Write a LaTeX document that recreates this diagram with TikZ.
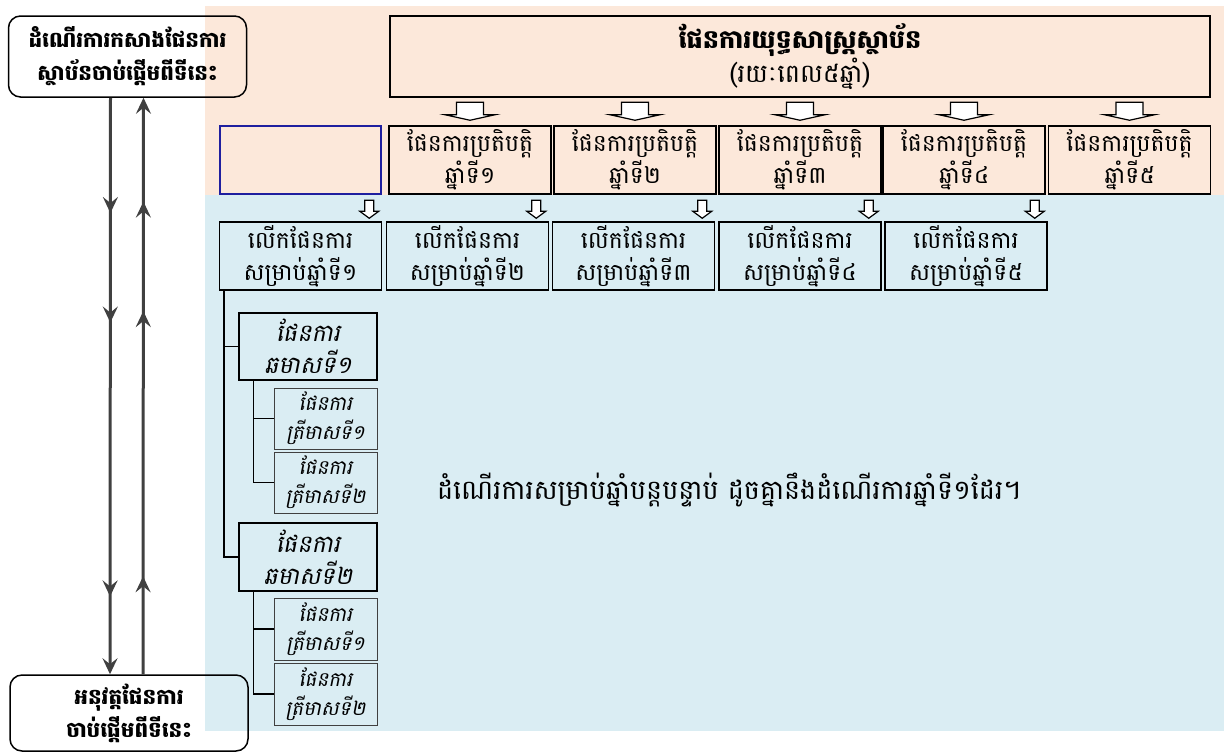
\documentclass[tikz,border=0pt]{standalone}
\usepackage{fontspec}
\newfontfamily\kh[Script=Khmer]{Battambang}
\newfontfamily\khit[Script=Khmer,FakeSlant=0.2]{Battambang}
\usetikzlibrary{arrows.meta,decorations.markings}
\definecolor{peach}{HTML}{FCE8DA}
\definecolor{paleblue}{HTML}{DAEDF3}
\definecolor{flowgray}{HTML}{404040}
\definecolor{navy}{HTML}{1F1F9F}
\tikzset{
  sqbox/.style={draw=black,line width=1.5pt,inner sep=0pt,align=center,
    minimum width=162pt,minimum height=68pt,font=\kh\fontsize{23.5}{32}\selectfont},
  roundbox/.style={draw=black,line width=1.5pt,rounded corners=12pt,inner sep=0pt,
    align=center,minimum width=238pt,font=\kh\bfseries\fontsize{21.5}{33}\selectfont},
  sembox/.style={draw=black,line width=1.5pt,inner sep=0pt,align=center,
    minimum width=138pt,minimum height=67pt,font=\khit\fontsize{24}{32}\selectfont},
  qbox/.style={draw=black!75,line width=1pt,inner sep=0pt,align=center,
    minimum width=103pt,minimum height=61pt,font=\khit\fontsize{20}{29}\selectfont},
  treeline/.style={draw=black,line width=1.5pt},
  flowtip/.tip={Stealth[length=16pt,width=15pt,inset=6pt,fill=flowgray]},
  flow/.style={draw=flowgray,line width=3pt},
  bigarrow/.pic={\draw[fill=white,line width=1.2pt,line join=miter]
    (-13.5,0) -- (13.5,0) -- (13.5,12.5) -- (25,12.5) -- (0,18) -- (-25,12.5) -- (-13.5,12.5) -- cycle;},
  smallarrow/.pic={\draw[fill=white,line width=1.2pt,line join=miter]
    (-4.5,0) -- (4.5,0) -- (4.5,11) -- (9.5,11) -- (0,18) -- (-9.5,11) -- (-4.5,11) -- cycle;}
}
\begin{document}
\begin{tikzpicture}[x=1pt,y=-1pt]
\useasboundingbox (0,0) rectangle (1228,753);
% backgrounds
\fill[peach] (205,6) rectangle (1224,195);
\fill[paleblue] (205,195) rectangle (1224,731);
% left boxes
\node[roundbox,minimum height=81pt] (start) at (127.5,56.5) {ដំណើរការកសាងផែនការ\\ស្ថាប័នចាប់ផ្តើមពីទីនេះ};
\node[roundbox,minimum height=76pt] (finish) at (129,713) {អនុវត្តផែនការ\\ចាប់ផ្តើមពីទីនេះ};
% title
\node[sqbox,minimum width=820pt,minimum height=81pt,font=\kh\fontsize{25.5}{31}\selectfont] (title) at (800,56.5)
  {{\bfseries ផែនការយុទ្ធសាស្ត្រស្ថាប័ន}\\(រយៈពេល៥ឆ្នាំ)};
% operational plans
\node[draw=navy,line width=1.2pt,minimum width=161pt,minimum height=68pt,inner sep=0pt] (blank) at (300.5,160) {};
\node[sqbox] (op1) at (470,160) {ផែនការប្រតិបត្តិ\\ឆ្នាំទី១};
\node[sqbox] (op2) at (635,160) {ផែនការប្រតិបត្តិ\\ឆ្នាំទី២};
\node[sqbox] (op3) at (800,160) {ផែនការប្រតិបត្តិ\\ឆ្នាំទី៣};
\node[sqbox] (op4) at (964,160) {ផែនការប្រតិបត្តិ\\ឆ្នាំទី៤};
\node[sqbox] (op5) at (1129.5,160) {ផែនការប្រតិបត្តិ\\ឆ្នាំទី៥};
% big hollow arrows
\foreach \i in {1,...,5} {\pic at ([yshift=23pt]op\i.north) {bigarrow};}
% yearly plans
\node[sqbox] (yr1) at (300.5,256) {លើកផែនការ\\សម្រាប់ឆ្នាំទី១};
\node[sqbox] (yr2) at (467.5,256) {លើកផែនការ\\សម្រាប់ឆ្នាំទី២};
\node[sqbox] (yr3) at (633.5,256) {លើកផែនការ\\សម្រាប់ឆ្នាំទី៣};
\node[sqbox] (yr4) at (800,256) {លើកផែនការ\\សម្រាប់ឆ្នាំទី៤};
\node[sqbox] (yr5) at (966,256) {លើកផែនការ\\សម្រាប់ឆ្នាំទី៥};
\foreach \i in {1,...,5} {\pic at ([xshift=-13pt,yshift=21pt]yr\i.north east) {smallarrow};}
% semester and quarter plans
\node[sembox] (sem1) at (308,346.5) {ផែនការ\\ឆមាសទី១};
\node[qbox] (q11) at (325.5,418.5) {ផែនការ\\ត្រីមាសទី១};
\node[qbox] (q12) at (325.5,482.5) {ផែនការ\\ត្រីមាសទី២};
\node[sembox,minimum height=68pt] (sem2) at (308,557) {ផែនការ\\ឆមាសទី២};
\node[qbox,minimum height=62pt] (q21) at (325.5,629) {ផែនការ\\ត្រីមាសទី១};
\node[qbox,minimum height=62pt] (q22) at (325.5,694) {ផែនការ\\ត្រីមាសទី២};
% tree lines
\draw[treeline] ([xshift=5pt]yr1.south west) |- (sem1.west);
\draw[treeline] ([xshift=5pt]yr1.south west) |- (sem2.west);
\draw[treeline] ([xshift=15pt]sem1.south west) |- (q11.west);
\draw[treeline] ([xshift=15pt]sem1.south west) |- (q12.west);
\draw[treeline] ([xshift=15pt]sem2.south west) |- (q21.west);
\draw[treeline] ([xshift=15pt]sem2.south west) |- (q22.west);
% note
\node[font=\kh\fontsize{27}{32}\selectfont,inner sep=0pt] (note) at (729,490)
  {ដំណើរការសម្រាប់ឆ្នាំបន្តបន្ទាប់ ដូចគ្នានឹងដំណើរការឆ្នាំទី១ដែរ។};
% flow lines
\draw[flow,-{flowtip},postaction={decorate},
  decoration={markings,
    mark=at position 0.2 with {\arrow{flowtip}},
    mark=at position 0.39 with {\arrow{flowtip}},
    mark=at position 0.865 with {\arrow{flowtip}}}]
  ([xshift=-17pt]start.south) -- ([xshift=-19pt]finish.north);
\draw[flow,-{flowtip},postaction={decorate},
  decoration={markings,
    mark=at position 0.17 with {\arrow{flowtip}},
    mark=at position 0.63 with {\arrow{flowtip}},
    mark=at position 0.82 with {\arrow{flowtip}}}]
  ([xshift=14pt]finish.north) -- ([xshift=16pt]start.south);
\end{tikzpicture}
\end{document}
